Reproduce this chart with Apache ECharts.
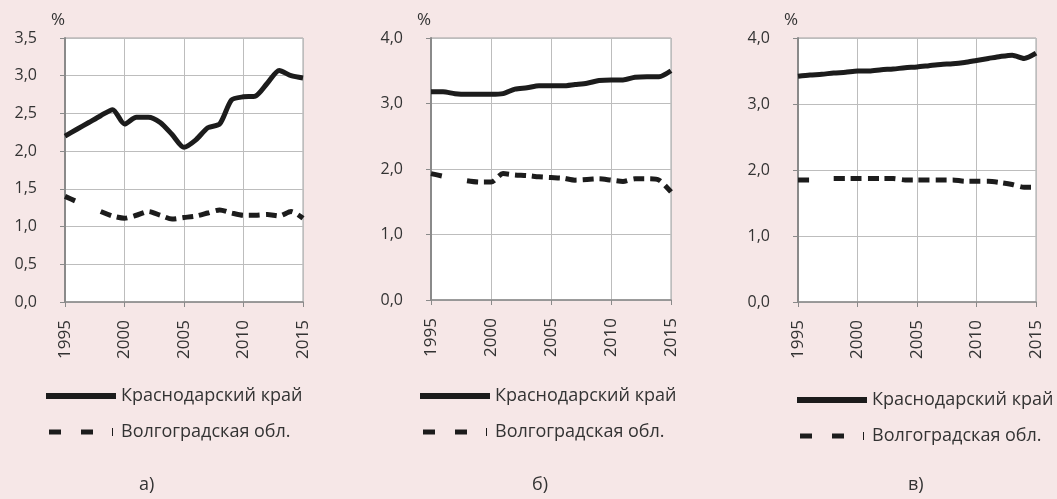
<!DOCTYPE html>
<html>
<head>
<meta charset="utf-8">
<script src="https://cdn.jsdelivr.net/npm/echarts@6/dist/echarts.min.js"></script>
<style>
  html, body { margin: 0; padding: 0; background: #f6e7e7; }
  #chart { width: 1057px; height: 499px; }
</style>
</head>
<body>
<div id="chart"></div>
<script>
// годы
const years = [1995, 1996, 1997, 1998, 1999, 2000, 2001, 2002, 2003, 2004, 2005,
               2006, 2007, 2008, 2009, 2010, 2011, 2012, 2013, 2014, 2015];

// а)
const krasnodarA = [2.20, 2.29, 2.38, 2.47, 2.55, 2.36, 2.45, 2.45, 2.38, 2.22, 2.05,
                    2.15, 2.31, 2.36, 2.68, 2.72, 2.73, 2.90, 3.07, 3.00, 2.97];
const volgogradA = [1.40, 1.33, null, 1.20, 1.14, 1.11, 1.15, 1.20, 1.15, 1.10, 1.12,
                    1.14, 1.18, 1.22, 1.18, 1.15, 1.15, 1.16, 1.14, 1.20, 1.11];
// б)
const krasnodarB = [3.18, 3.18, 3.15, 3.14, 3.14, 3.14, 3.15, 3.22, 3.24, 3.27, 3.27,
                    3.27, 3.29, 3.31, 3.35, 3.36, 3.36, 3.40, 3.41, 3.41, 3.50];
const volgogradB = [1.93, 1.89, null, 1.82, 1.80, 1.80, 1.93, 1.91, 1.90, 1.88, 1.87,
                    1.86, 1.83, 1.84, 1.85, 1.83, 1.81, 1.85, 1.85, 1.83, 1.65];
// в)
const krasnodarC = [3.42, 3.44, 3.45, 3.47, 3.48, 3.50, 3.50, 3.52, 3.53, 3.55, 3.56,
                    3.58, 3.60, 3.61, 3.63, 3.66, 3.69, 3.72, 3.74, 3.69, 3.77];
const volgogradC = [1.85, 1.85, null, 1.87, 1.87, 1.87, 1.87, 1.87, 1.87, 1.85, 1.85,
                    1.85, 1.85, 1.85, 1.83, 1.83, 1.83, 1.81, 1.78, 1.74, 1.74];

const seriesNames = ['Краснодарский край', 'Волгоградская обл.'];
const captions = ['а)', 'б)', 'в)'];
const yMax = [3.5, 4.0, 4.0];
const yStep = [0.5, 1.0, 1.0];

const FONT = '"Open Sans", "Noto Sans", sans-serif';
const TXT = '#333';
const INK = '#1c1c1c';

// позиции панелей
const grids = [
  { left: 65, top: 38, width: 238, height: 264 },
  { left: 431, top: 38, width: 240, height: 262 },
  { left: 798, top: 38, width: 238, height: 264 }
];

const pairs = [[krasnodarA, volgogradA], [krasnodarB, volgogradB], [krasnodarC, volgogradC]];

// значки легенды: сплошная полоса и штрихи
const solidIcon = 'path://M0,1h70v6h-70z';
const dashIcon = 'path://M2,1.5h12v5h-12z M34,1.5h12v5h-12z M65,0h1v8h-1z';

const chart = echarts.init(document.getElementById('chart'));

const option = {
  backgroundColor: '#f6e7e7',
  animation: false,
  textStyle: { fontFamily: FONT, color: TXT },
  grid: grids.map(g => Object.assign({
    show: true, backgroundColor: '#fff', borderColor: '#a0a0a0', borderWidth: 1
  }, g)),
  title: captions.map((c, i) => ({
    text: c,
    left: [134, 527, 903][i],
    top: 471,
    textStyle: { fontFamily: FONT, fontSize: 18, fontWeight: 'normal', color: TXT }
  })),
  legend: grids.map((g, i) => ({
    data: [
      { name: seriesNames[0], icon: solidIcon },
      { name: seriesNames[1], icon: dashIcon }
    ],
    orient: 'vertical',
    left: [46, 420, 797][i],
    top: [387, 387, 391][i],
    padding: 0,
    itemWidth: 70,
    itemHeight: 8,
    itemGap: 18,
    itemStyle: { color: INK },
    textStyle: { fontFamily: FONT, fontSize: 18, color: TXT }
  })),
  xAxis: grids.map((g, i) => ({
    type: 'value',
    gridIndex: i,
    min: 1995,
    max: 2015,
    interval: 5,
    axisLine: { lineStyle: { color: '#8a8a8a', width: 1.5 } },
    axisTick: { show: true, length: 5, lineStyle: { color: '#8a8a8a' } },
    axisLabel: {
      rotate: 90, fontSize: 17, color: TXT, margin: 18, fontFamily: FONT,
      formatter: v => String(v)
    },
    splitLine: { show: true, lineStyle: { color: '#bdbdbd' } }
  })),
  yAxis: grids.map((g, i) => ({
    type: 'value',
    gridIndex: i,
    min: 0,
    max: yMax[i],
    interval: yStep[i],
    name: '%',
    nameLocation: 'end',
    nameGap: 9,
    nameTextStyle: { fontSize: 17, color: TXT, align: 'right', fontFamily: FONT },
    axisLine: { show: true, lineStyle: { color: '#8a8a8a', width: 2 } },
    axisTick: { show: true, length: 5, lineStyle: { color: '#8a8a8a' } },
    axisLabel: {
      fontSize: 16, color: TXT, margin: 28, fontFamily: FONT,
      formatter: v => v.toFixed(1).replace('.', ',')
    },
    splitLine: { show: true, lineStyle: { color: '#bdbdbd' } }
  })),
  series: []
};

pairs.forEach((p, i) => {
  option.series.push({
    name: seriesNames[0],
    type: 'line',
    xAxisIndex: i,
    yAxisIndex: i,
    data: years.map((y, k) => [y, p[0][k]]),
    symbol: 'none',
    smooth: 0.25,
    lineStyle: { color: INK, width: 5 },
    itemStyle: { color: INK }
  });
  option.series.push({
    name: seriesNames[1],
    type: 'line',
    xAxisIndex: i,
    yAxisIndex: i,
    data: years.map((y, k) => [y, p[1][k]]),
    symbol: 'none',
    smooth: 0.25,
    connectNulls: false,
    lineStyle: { color: INK, width: 5, type: [11, 6] },
    itemStyle: { color: INK }
  });
});

chart.setOption(option);
</script>
</body>
</html>
